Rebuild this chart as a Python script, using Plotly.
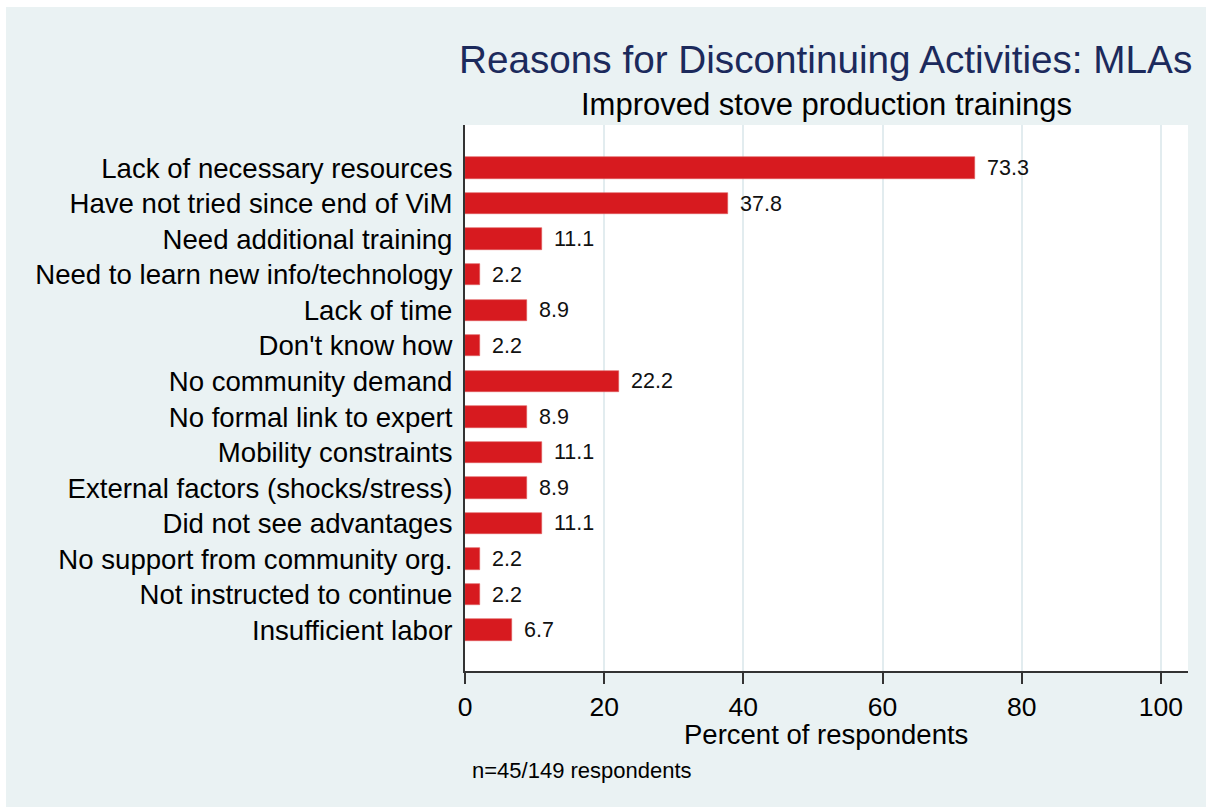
import plotly.graph_objects as go

# Survey data: share of MLAs citing each reason
reasons = [
    "Lack of necessary resources",
    "Have not tried since end of ViM",
    "Need additional training",
    "Need to learn new info/technology",
    "Lack of time",
    "Don't know how",
    "No community demand",
    "No formal link to expert",
    "Mobility constraints",
    "External factors (shocks/stress)",
    "Did not see advantages",
    "No support from community org.",
    "Not instructed to continue",
    "Insufficient labor",
]
percent = [73.3, 37.8, 11.1, 2.2, 8.9, 2.2, 22.2, 8.9, 11.1, 8.9, 11.1, 2.2, 2.2, 6.7]
x_ticks = [0, 20, 40, 60, 80, 100]

W, H = 1206, 807
L, R, T, B = 465, 18, 125, 136
FONT = "Liberation Sans, Arial, sans-serif"
BG = "#EAF2F3"
BAR = "#D71A1F"
AXIS = "#333333"

pos = list(range(len(reasons)))

fig = go.Figure()
fig.add_trace(go.Bar(
    x=percent,
    y=pos,
    orientation="h",
    width=0.6,
    marker=dict(color=BAR, line=dict(color="#E05A5D", width=0.6)),
    hoverinfo="x+y",
))

# value labels to the right of each bar
for p, v in zip(pos, percent):
    fig.add_annotation(
        x=v, y=p, xref="x", yref="y",
        text=f"{v:.1f}", showarrow=False,
        xanchor="left", yanchor="middle", xshift=10,
        font=dict(family=FONT, size=21.5, color="#111111"),
    )

pw = W - L - R
ph = H - T - B


def px_x(px):
    return (px - L) / pw


def px_y(py):
    return (H - B - py) / ph


# titles and notes
fig.add_annotation(
    x=px_x(1194), y=px_y(60), xref="paper", yref="paper",
    text="Reasons for Discontinuing Activities: MLAs", showarrow=False,
    xanchor="right", yanchor="middle",
    font=dict(family=FONT, size=38.7, color="#1C2A5C"),
)
fig.add_annotation(
    x=px_x(826), y=px_y(105), xref="paper", yref="paper",
    text="Improved stove production trainings", showarrow=False,
    xanchor="center", yanchor="middle",
    font=dict(family=FONT, size=31, color="#000000"),
)
fig.add_annotation(
    x=px_x(826), y=px_y(734), xref="paper", yref="paper",
    text="Percent of respondents", showarrow=False,
    xanchor="center", yanchor="middle",
    font=dict(family=FONT, size=27.5, color="#000000"),
)
fig.add_annotation(
    x=px_x(470), y=px_y(770), xref="paper", yref="paper",
    text="n=45/149 respondents", showarrow=False,
    xanchor="left", yanchor="middle",
    font=dict(family=FONT, size=22, color="#000000"),
)

# thin white frame on the left and top edges
fig.add_shape(type="rect", xref="paper", yref="paper",
              x0=px_x(-5), x1=px_x(6), y0=px_y(H + 5), y1=px_y(-5),
              fillcolor="white", line=dict(width=0), layer="above")
fig.add_shape(type="rect", xref="paper", yref="paper",
              x0=px_x(-5), x1=px_x(W + 5), y0=px_y(7), y1=px_y(-5),
              fillcolor="white", line=dict(width=0), layer="above")

fig.update_layout(
    width=W, height=H,
    margin=dict(l=L, r=R, t=T, b=B, pad=0),
    paper_bgcolor=BG,
    plot_bgcolor="white",
    showlegend=False,
    bargap=0,
    font=dict(family=FONT, color="#000000"),
)
fig.update_xaxes(
    range=[0, 103.9],
    tickvals=x_ticks,
    ticks="outside", ticklen=11, tickwidth=2, tickcolor=AXIS,
    tickfont=dict(family=FONT, size=26.5, color="#000000"),
    showgrid=True, gridcolor="#E2ECEF", gridwidth=1.5,
    showline=True, linecolor=AXIS, linewidth=2,
    zeroline=False,
    fixedrange=True,
)
fig.update_yaxes(
    range=[14.15, -1.21],
    tickvals=pos, ticktext=reasons,
    ticks="", ticklabelstandoff=5,
    tickfont=dict(family=FONT, size=27.6, color="#000000"),
    showgrid=False,
    showline=True, linecolor=AXIS, linewidth=2,
    zeroline=False,
    fixedrange=True,
)

fig.write_html("out.html")
